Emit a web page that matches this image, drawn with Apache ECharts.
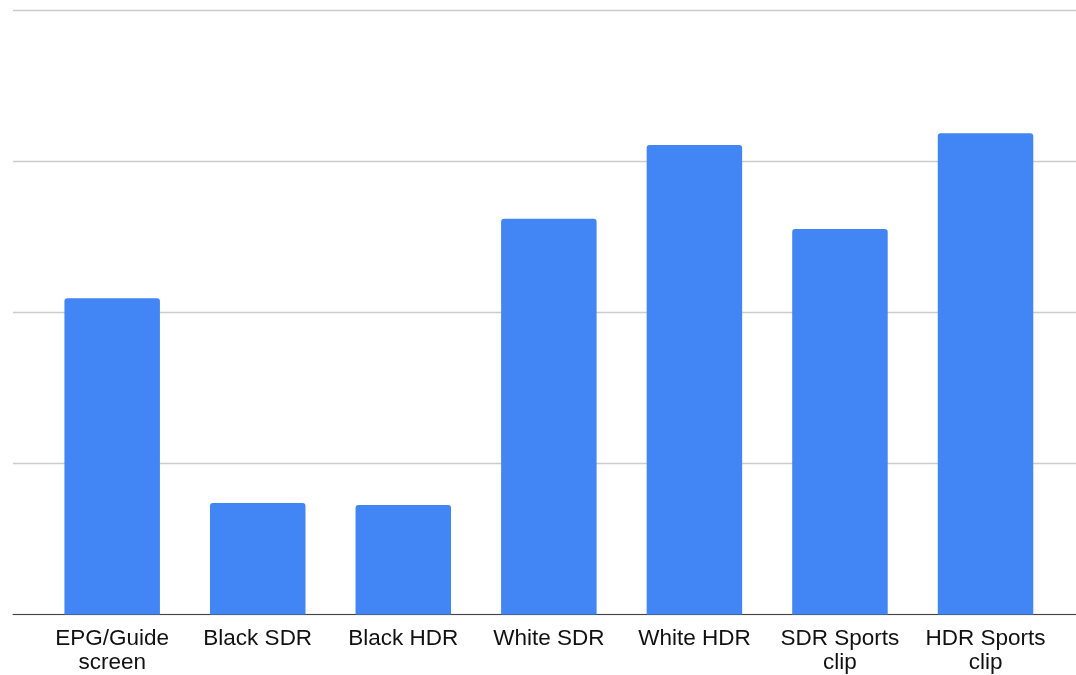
<!DOCTYPE html>
<html>
<head>
<meta charset="utf-8">
<script src="https://cdn.jsdelivr.net/npm/echarts@6/dist/echarts.min.js"></script>
<style>
  html, body { margin: 0; padding: 0; background: #fff; }
  #chart { width: 1076px; height: 675px; }
</style>
</head>
<body>
<div id="chart"></div>
<script>
// Test scenarios along the x axis
const categories = [
  'EPG/Guide\nscreen',
  'Black SDR',
  'Black HDR',
  'White SDR',
  'White HDR',
  'SDR Sports\nclip',
  'HDR Sports\nclip'
];

// Measured value per scenario
const values = [209.4, 73.8, 72.5, 262.1, 310.9, 255.3, 318.7];

// Value scale (no tick labels are drawn, only gridlines)
const yMin = 0;
const yMax = 400;
const yStep = 100;

const chart = echarts.init(document.getElementById('chart'), null, { renderer: 'canvas' });

const option = {
  backgroundColor: '#ffffff',
  animation: false,
  grid: [
    // full-width frame carrying gridlines and baseline
    { left: 13, right: 0, top: 10.5, bottom: 60.5 },
    // inner area where the bars sit
    { left: 39.4, right: 17.7, top: 10.5, bottom: 60.5 }
  ],
  xAxis: [
    {
      gridIndex: 0,
      type: 'value',
      min: 0,
      max: 1,
      axisLine: { show: true, onZero: false, lineStyle: { color: '#444', width: 1.2 } },
      axisTick: { show: false },
      axisLabel: { show: false },
      splitLine: { show: false }
    },
    {
      gridIndex: 1,
      type: 'category',
      data: categories,
      axisLine: { show: false },
      axisTick: { show: false },
      axisLabel: {
        color: '#111',
        fontFamily: '"Liberation Sans", Arial, sans-serif',
        fontSize: 22.5,
        lineHeight: 24,
        margin: 12,
        interval: 0
      }
    }
  ],
  yAxis: [
    {
      gridIndex: 0,
      type: 'value',
      min: yMin,
      max: yMax,
      interval: yStep,
      axisLine: { show: false },
      axisTick: { show: false },
      axisLabel: { show: false },
      splitLine: { show: true, lineStyle: { color: '#cccccc', width: 1.3 } }
    },
    {
      gridIndex: 1,
      type: 'value',
      min: yMin,
      max: yMax,
      interval: yStep,
      axisLine: { show: false },
      axisTick: { show: false },
      axisLabel: { show: false },
      splitLine: { show: false }
    }
  ],
  series: [
    {
      type: 'bar',
      xAxisIndex: 1,
      yAxisIndex: 1,
      data: values,
      barWidth: 95.5,
      itemStyle: { color: '#4285f4', borderRadius: [3, 3, 0, 0] },
      z: 3
    }
  ]
};

chart.setOption(option);
</script>
</body>
</html>
